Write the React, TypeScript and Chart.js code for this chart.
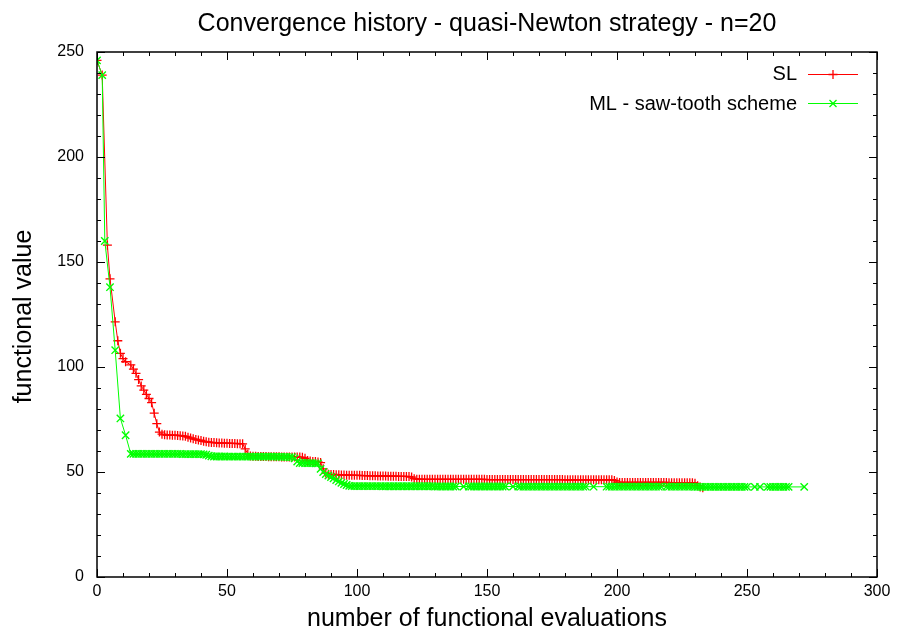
import React, { useEffect, useRef } from 'react';
import { Chart, registerables } from 'chart.js';

Chart.register(...registerables);

const TITLE = 'Convergence history - quasi-Newton strategy - n=20';
const X_LABEL = 'number of functional evaluations';
const Y_LABEL = 'functional value';
const SERIES_NAMES = ['SL', 'ML - saw-tooth scheme'];
const X_TICKS = [0, 50, 100, 150, 200, 250, 300];
const Y_TICKS = [0, 50, 100, 150, 200, 250];
const X_MINOR_STEP = 10;
const Y_MINOR_STEP = 10;

// SL values, index = number of functional evaluations (null = no evaluation at that count)
const SL_VALUES: (number | null)[] = [
  246, null, 239, null, 158, 142, null, 121.5, 112.5, 106.5,
  104, 102.5, null, 101, 99, 97, 94, 91, 89, 87,
  85, 83, 78, 73, 69, 68, 67.7, 67.6, 67.6, 67.5,
  67.5, 67.4, 67.3, 67.2, 67, 66.6, 66.2, 65.8, 65.5, 65.2,
  65, 64.6, 64.4, 64.2, 64.1, 64, 63.9, 63.8, 63.8, 63.7,
  63.7, 63.6, 63.6, 63.6, 63.5, 63.5, 63.4, 61, 58.5, 57.6,
  57.5, 57.5, 57.4, 57.4, 57.4, 57.4, 57.3, 57.3, 57.3, 57.3,
  57.3, 57.2, 57.2, 57.2, 57.2, 57.1, 57.1, 57.1, 57.1, 57,
  56.5, 55.5, 55.2, 55, 55, 54.8, 54.5, 51.5, 49.5, 48.9,
  48.8, 48.8, 48.7, 48.7, 48.6, 48.6, 48.5, 48.5, 48.5, 48.4,
  48.4, 48.4, 48.3, 48.3, 48.3, 48.2, 48.2, 48.2, 48.1, 48.1,
  48.1, 48.1, 48, 48, 48, 48, 47.9, 47.9, 47.9, 47.9,
  47.8, 47.6, 46.8, 46.6, 46.6, 46.5, 46.5, 46.5, 46.5, 46.5,
  46.5, 46.5, 46.5, 46.5, 46.5, 46.5, 46.5, 46.5, 46.5, 46.5,
  46.5, 46.5, 46.5, 46.5, 46.5, 46.5, 46.5, 46.5, 46.5, 46.5,
  46.4, 46.4, 46.4, 46.4, 46.4, 46.4, 46.4, 46.4, 46.4, 46.4,
  46.4, 46.4, 46.4, 46.4, 46.4, 46.4, 46.4, 46.4, 46.4, 46.4,
  46.4, 46.4, 46.4, 46.4, 46.4, 46.4, 46.4, 46.4, 46.4, 46.4,
  46.3, 46.3, 46.3, 46.3, 46.3, 46.3, 46.3, 46.3, 46.3, 46.3,
  46.3, 46.3, 46.3, 46.3, 46.3, 46.3, 46.3, 46.3, 46.3, 46,
  45.2, 45, 45, 45, 45, 45, 45, 45, 45, 45,
  45, 45, 45, 45, 45, 45, 45, 45, 45, 45,
  44.9, 44.9, 44.9, 44.9, 44.9, 44.9, 44.9, 44.9, 44.9, 44.9,
  44.6, 43.5, 42.8, 42.5,
];

// ML values, index = number of functional evaluations (null = no evaluation at that count)
const ML_VALUES: (number | null)[] = [
  246, null, 239, 160, null, 138, null, 108, null, 75.5,
  null, 67.5, null, 58.6, 58.6, 58.6, 58.6, 58.6, 58.6, 58.6,
  58.6, 58.6, 58.6, 58.6, 58.6, 58.6, 58.6, 58.6, 58.6, 58.6,
  58.6, 58.6, 58.6, 58.5, 58.5, 58.5, 58.5, 58.5, 58.5, 58.5,
  58.5, 58.4, 58.2, 57.8, 57.5, 57.4, 57.4, 57.4, 57.4, 57.4,
  57.3, 57.3, 57.3, 57.3, 57.3, 57.3, 57.3, 57.3, 57.3, 57.3,
  57.3, 57.3, 57.3, 57.3, 57.3, 57.3, 57.3, 57.3, 57.3, 57.3,
  57.2, 57.2, 57.2, 57.2, 57.1, 57.1, 56.5, 55, 54.3, 54.3,
  54.2, 54.2, 54.2, 54.2, 54.1, 54.1, 51.5, 50, 49, 48.3,
  47.6, 47, 46.2, 45.5, 44.8, 44.3, 43.8, 43.4, 43.3, 43.3,
  43.3, 43.3, 43.3, 43.3, 43.3, 43.3, 43.3, 43.3, 43.3, 43.3,
  43.2, 43.2, 43.2, 43.2, 43.2, 43.2, 43.2, 43.2, 43.2, 43.2,
  43.2, 43.2, 43.2, 43.2, 43.2, 43.2, 43.2, 43.2, 43.2, 43.2,
  43.1, 43.1, 43.1, 43.1, 43.1, 43.1, 43.1, 43.1, 43.1, null,
  null, 43.1, null, 43.1, 43.1, 43.1, 43.1, 43.1, 43.1, 43.1,
  43.1, 43.1, 43.1, 43.1, 43.1, 43.1, 43.1, 43.1, null, null,
  43.1, null, 43.1, 43, 43, 43, 43, 43, 43, 43,
  43, 43, 43, 43, 43, 43, 43, 43, 43, 43,
  43, 43, 43, 43, 43, 43, 43, 43, 43, null,
  null, 43, null, null, null, null, 43, 43, 43, 43,
  43, 43, 43, 43, 43, 43, 43, 43, 43, 43,
  43, 43, 43, 43, 43, 43, 43, 43, null, 43,
  43, 43, 43, 43, 43, 43, 43, 43, 43, 43,
  42.9, 42.9, 42.9, 42.9, 42.9, 42.9, 42.9, 42.9, 42.9, 42.9,
  42.9, 42.9, 42.9, 42.9, 42.9, 42.9, 42.9, 42.9, 42.9, 42.9,
  42.9, null, null, 42.9, null, 42.9, null, null, 42.9, 42.9,
  42.9, 42.9, 42.9, 42.9, 42.9, 42.9, 42.9, null, null, null,
  null, null, 42.9,
];

const RED = '#ff0000';
const GREEN = '#00ff00';
const FONT = '"Liberation Sans", Arial, Helvetica, sans-serif';

const toPoints = (vals: (number | null)[]) =>
  vals
    .map((y, x) => ({ x, y }))
    .filter((p) => p.y !== null) as { x: number; y: number }[];

function drawMarker(ctx: CanvasRenderingContext2D, kind: string, x: number, y: number, color: string) {
  ctx.save();
  ctx.strokeStyle = color;
  ctx.lineWidth = 1.3;
  ctx.beginPath();
  if (kind === 'cross') {
    ctx.moveTo(x - 4.5, y);
    ctx.lineTo(x + 4.5, y);
    ctx.moveTo(x, y - 4.5);
    ctx.lineTo(x, y + 4.5);
  } else {
    const d = 3.5;
    ctx.moveTo(x - d, y - d);
    ctx.lineTo(x + d, y + d);
    ctx.moveTo(x - d, y + d);
    ctx.lineTo(x + d, y - d);
  }
  ctx.stroke();
  ctx.restore();
}

const framePlugin = {
  id: 'gnuplotFrame',
  afterDatasetsDraw(chart: any) {
    const { ctx, chartArea, scales } = chart;
    const { left, right, top, bottom } = chartArea;
    const xs = scales.x;
    const ys = scales.y;
    ctx.save();
    ctx.strokeStyle = '#000';
    ctx.lineWidth = 1;
    ctx.beginPath();
    for (let v = xs.min; v <= xs.max; v += X_MINOR_STEP) {
      const len = X_TICKS.includes(v) ? 8 : 4;
      const px = Math.round(xs.getPixelForValue(v)) + 0.5;
      ctx.moveTo(px, bottom);
      ctx.lineTo(px, bottom - len);
      ctx.moveTo(px, top);
      ctx.lineTo(px, top + len);
    }
    for (let v = ys.min; v <= ys.max; v += Y_MINOR_STEP) {
      const len = Y_TICKS.includes(v) ? 8 : 4;
      const py = Math.round(ys.getPixelForValue(v)) + 0.5;
      ctx.moveTo(left, py);
      ctx.lineTo(left + len, py);
      ctx.moveTo(right, py);
      ctx.lineTo(right - len, py);
    }
    ctx.stroke();
    ctx.lineWidth = 1.5;
    ctx.strokeRect(left, top, right - left, bottom - top);
    ctx.restore();
  },
  afterDraw(chart: any) {
    const { ctx, chartArea } = chart;
    const { left, right, top, bottom } = chartArea;
    ctx.save();
    ctx.fillStyle = '#000';
    ctx.font = `25px ${FONT}`;
    ctx.textAlign = 'center';
    ctx.textBaseline = 'alphabetic';
    ctx.fillText(TITLE, (left + right) / 2, 31);
    ctx.fillText(X_LABEL, (left + right) / 2, 626);
    ctx.save();
    ctx.translate(31, (top + bottom) / 2 + 2);
    ctx.rotate(-Math.PI / 2);
    ctx.fillText(Y_LABEL, 0, 0);
    ctx.restore();

    // legend (gnuplot style: text right-aligned, sample to the right)
    const styles = [
      { color: RED, kind: 'cross' },
      { color: GREEN, kind: 'crossRot' },
    ];
    ctx.font = `20px ${FONT}`;
    ctx.textAlign = 'right';
    ctx.textBaseline = 'middle';
    SERIES_NAMES.forEach((name, i) => {
      const y = 73.5 + i * 29.5;
      ctx.fillStyle = '#000';
      ctx.fillText(name, 797, y + 1);
      ctx.strokeStyle = styles[i].color;
      ctx.lineWidth = 1;
      ctx.beginPath();
      ctx.moveTo(808, Math.round(y) + 0.5);
      ctx.lineTo(858, Math.round(y) + 0.5);
      ctx.stroke();
      drawMarker(ctx, styles[i].kind, 833, Math.round(y) + 0.5, styles[i].color);
    });
    ctx.restore();
  },
};

export default function App() {
  const canvasRef = useRef<HTMLCanvasElement | null>(null);

  useEffect(() => {
    document.body.style.margin = '0';
    const canvas = canvasRef.current;
    if (!canvas) return;
    const chart = new Chart(canvas, {
      type: 'line',
      data: {
        datasets: [
          {
            label: SERIES_NAMES[1],
            data: toPoints(ML_VALUES),
            borderColor: GREEN,
            backgroundColor: GREEN,
            borderWidth: 1,
            pointStyle: 'crossRot',
            pointRadius: 5.2,
            pointBorderWidth: 1.4,
            pointBorderColor: GREEN,
            spanGaps: true,
            tension: 0,
            order: 0,
          },
          {
            label: SERIES_NAMES[0],
            data: toPoints(SL_VALUES),
            borderColor: RED,
            backgroundColor: RED,
            borderWidth: 1,
            pointStyle: 'cross',
            pointRadius: 4.5,
            pointBorderWidth: 1.3,
            pointBorderColor: RED,
            spanGaps: true,
            tension: 0,
            order: 1,
          },
        ],
      },
      options: {
        animation: false,
        responsive: false,
        events: [],
        layout: { padding: { top: 52, right: 23, left: 0, bottom: 0 } },
        plugins: {
          legend: { display: false },
          title: { display: false },
          tooltip: { enabled: false },
        },
        scales: {
          x: {
            type: 'linear',
            min: 0,
            max: 300,
            afterBuildTicks: (scale: any) => {
              scale.ticks = X_TICKS.map((v) => ({ value: v }));
            },
            afterFit: (scale: any) => {
              scale.height = 55;
            },
            grid: { display: false, drawTicks: false },
            border: { display: false },
            ticks: {
              padding: 5,
              color: '#000',
              autoSkip: false,
              maxRotation: 0,
              font: { family: FONT, size: 16 },
            },
          },
          y: {
            type: 'linear',
            min: 0,
            max: 250,
            afterBuildTicks: (scale: any) => {
              scale.ticks = Y_TICKS.map((v) => ({ value: v }));
            },
            afterFit: (scale: any) => {
              scale.width = 97;
            },
            grid: { display: false, drawTicks: false },
            border: { display: false },
            ticks: {
              padding: 13,
              color: '#000',
              font: { family: FONT, size: 16 },
            },
          },
        },
      },
      plugins: [framePlugin],
    });
    return () => chart.destroy();
  }, []);

  return (
    <div style={{ width: 900, height: 632 }}>
      <canvas ref={canvasRef} width={900} height={632} style={{ display: 'block' }} />
    </div>
  );
}
